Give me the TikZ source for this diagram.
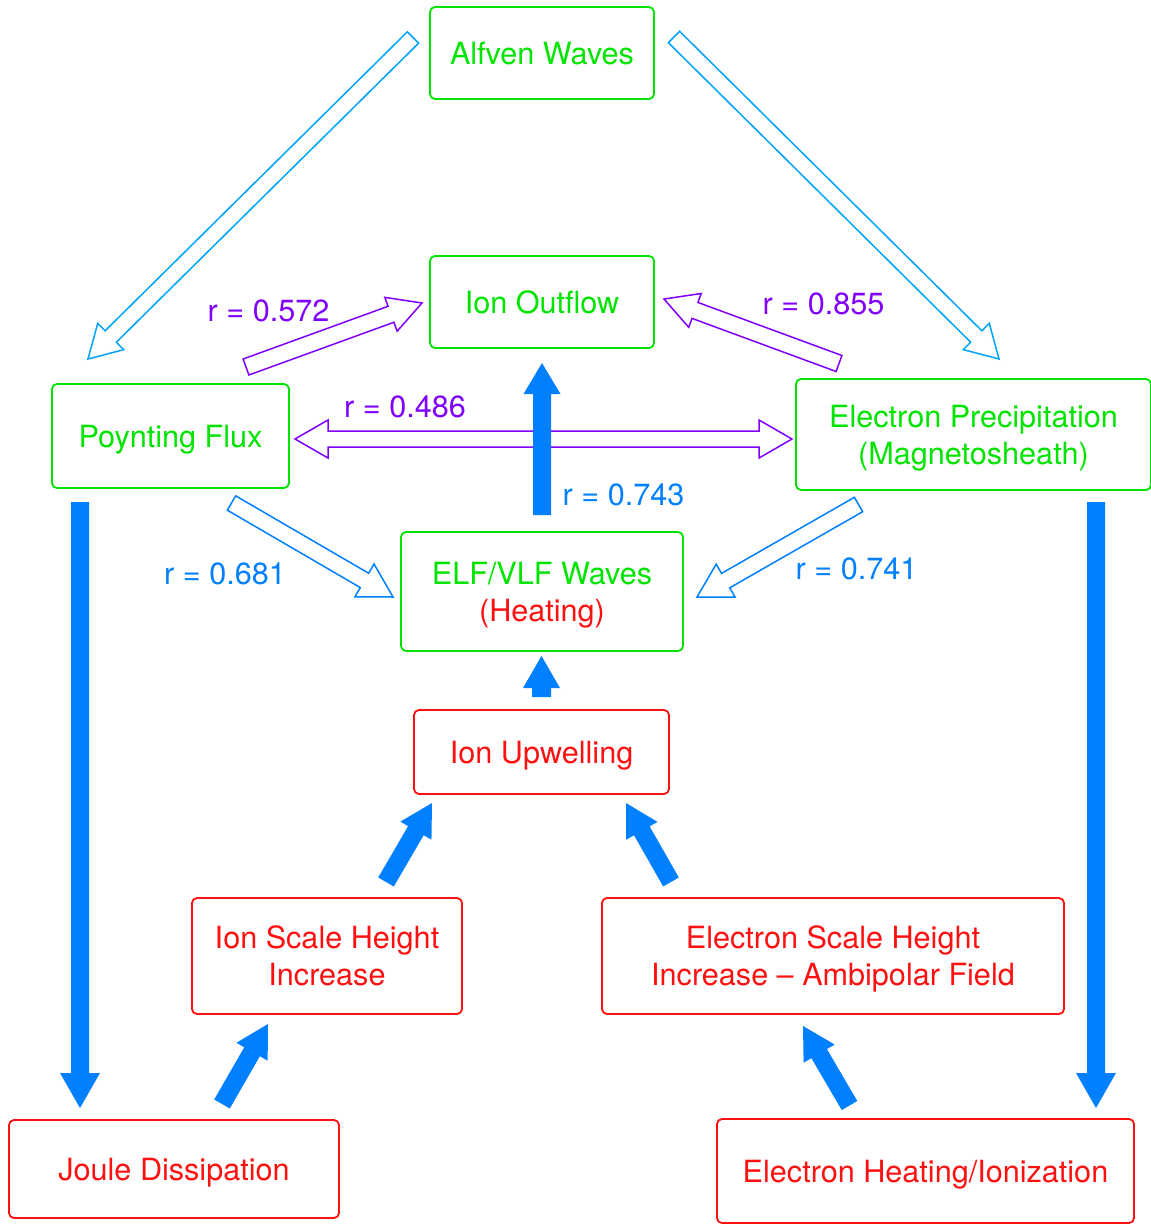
\documentclass[tikz,border=0pt]{standalone}
\usepackage{fontspec}
\setmainfont{TeX Gyre Heros}
\usetikzlibrary{calc}
\definecolor{boxgreen}{RGB}{0,228,0}
\definecolor{boxred}{RGB}{255,16,16}
\definecolor{rpurple}{RGB}{128,0,255}
\definecolor{solidblue}{RGB}{0,128,255}
\definecolor{lightblue}{RGB}{0,162,255}
\newcommand{\blkarrow}[6]{%
  \coordinate (hb) at ($(#3)!#6!(#2)$);
  \path[#1] ($(#2)!#4!90:(#3)$) -- ($(hb)!#4!90:(#3)$) -- ($(hb)!#5!90:(#3)$) -- (#3)
    -- ($(hb)!#5!-90:(#3)$) -- ($(hb)!#4!-90:(#3)$) -- ($(#2)!#4!-90:(#3)$) -- cycle;
}
\newcommand{\dblarrow}[6]{%
  \coordinate (ha) at ($(#2)!#6!(#3)$);
  \coordinate (hb) at ($(#3)!#6!(#2)$);
  \path[#1] (#2) -- ($(ha)!#5!90:(#3)$) -- ($(ha)!#4!90:(#3)$) -- ($(hb)!#4!-90:(#2)$)
    -- ($(hb)!#5!-90:(#2)$) -- (#3) -- ($(hb)!#5!90:(#2)$) -- ($(hb)!#4!90:(#2)$)
    -- ($(ha)!#4!-90:(#3)$) -- ($(ha)!#5!-90:(#3)$) -- cycle;
}
\begin{document}
\begin{tikzpicture}[x=1pt,y=-1pt,
  every node/.style={font=\fontsize{30.6}{37}\selectfont},
  box/.style={draw, rounded corners=5pt, line width=1.8pt, inner sep=0pt, align=center, text depth=0pt},
  gbox/.style={box, draw=boxgreen, text=boxgreen},
  rbox/.style={box, draw=boxred, text=boxred},
  hollowblue/.style={draw=lightblue, fill=white, line width=1.5pt, line join=miter},
  hollowblue2/.style={draw=solidblue, fill=white, line width=1.5pt, line join=miter},
  hollowpurple/.style={draw=rpurple, fill=white, line width=1.5pt, line join=miter},
  solidarr/.style={fill=solidblue},
  rlab/.style={anchor=base, inner sep=0pt}
]
\useasboundingbox (0,0) rectangle (1151,1224);

% nodes
\node[gbox, minimum width=224pt, minimum height=92pt] (alfven) at (542,53) {Alfven Waves};
\node[gbox, minimum width=224pt, minimum height=92pt] (outflow) at (542,302) {Ion Outflow};
\node[gbox, minimum width=237pt, minimum height=104pt] (poynting) at (170.5,436) {Poynting Flux};
\node[gbox, minimum width=355pt, minimum height=111pt] (precip) at (973.5,434.5) {Electron Precipitation\\(Magnetosheath)};
\node[gbox, minimum width=282pt, minimum height=119pt] (elf) at (542,591.5) {ELF/VLF Waves\\\textcolor{boxred}{(Heating)}};
\node[rbox, minimum width=255pt, minimum height=84pt] (upwell) at (541.5,752) {Ion Upwelling};
\node[rbox, minimum width=270pt, minimum height=116pt] (ionscale) at (327,956) {Ion Scale Height\\Increase};
\node[rbox, minimum width=462pt, minimum height=116pt] (escale) at (833,956) {Electron Scale Height\\Increase -- Ambipolar Field};
\node[rbox, minimum width=330pt, minimum height=98pt] (joule) at (174,1169) {Joule Dissipation};
\node[rbox, minimum width=417pt, minimum height=104pt] (eheat) at (925.5,1171) {Electron Heating/Ionization};

% arrow end coordinates
\coordinate (a1s) at (413,37.5);   \coordinate (a1e) at (88,359);
\coordinate (a2s) at (674,37);     \coordinate (a2e) at (999,359);
\coordinate (p1s) at (246,367);    \coordinate (p1e) at (422,303);
\coordinate (p2s) at (839,363.5);  \coordinate (p2e) at (664,299);
\coordinate (d1s) at (295,439);    \coordinate (d1e) at (792,439);
\coordinate (b1s) at (231.5,503);  \coordinate (b1e) at (393,597);
\coordinate (b2s) at (858.5,504.5);\coordinate (b2e) at (697,597);
\coordinate (s1s) at (542,515);    \coordinate (s1e) at (542,363);
\coordinate (s2s) at (541.5,697);  \coordinate (s2e) at (541.5,656);
\coordinate (s3s) at (386,882);    \coordinate (s3e) at (432,803);
\coordinate (s4s) at (671,882);    \coordinate (s4e) at (626,803);
\coordinate (s5s) at (222,1104);   \coordinate (s5e) at (268,1024);
\coordinate (s6s) at (849.5,1105.5); \coordinate (s6e) at (803,1026);
\coordinate (s7s) at (80,502);     \coordinate (s7e) at (80,1108);
\coordinate (s8s) at (1096,502);   \coordinate (s8e) at (1096,1108);

% hollow arrows
\blkarrow{hollowblue}{a1s}{a1e}{8pt}{18.5pt}{32pt}
\blkarrow{hollowblue}{a2s}{a2e}{8pt}{18.5pt}{32pt}
\blkarrow{hollowpurple}{p1s}{p1e}{8.5pt}{18pt}{33pt}
\blkarrow{hollowpurple}{p2s}{p2e}{8.5pt}{18pt}{33pt}
\blkarrow{hollowblue2}{b1s}{b1e}{8.3pt}{19pt}{33pt}
\blkarrow{hollowblue2}{b2s}{b2e}{8.3pt}{19pt}{33pt}
\dblarrow{hollowpurple}{d1s}{d1e}{8pt}{19pt}{33pt}

% solid arrows
\blkarrow{solidarr}{s1s}{s1e}{9pt}{18.5pt}{31pt}
\blkarrow{solidarr}{s2s}{s2e}{9.5pt}{18.5pt}{32pt}
\blkarrow{solidarr}{s3s}{s3e}{9pt}{18pt}{32pt}
\blkarrow{solidarr}{s4s}{s4e}{9pt}{18pt}{32pt}
\blkarrow{solidarr}{s5s}{s5e}{9pt}{18pt}{32pt}
\blkarrow{solidarr}{s6s}{s6e}{9pt}{18pt}{32pt}
\blkarrow{solidarr}{s7s}{s7e}{9pt}{20pt}{35pt}
\blkarrow{solidarr}{s8s}{s8e}{9pt}{20pt}{35pt}

% labels
\node[rlab, text=rpurple] (l572) at (268.5,321) {r = 0.572};
\node[rlab, text=rpurple] (l486) at (405,417) {r = 0.486};
\node[rlab, text=rpurple] (l855) at (823.5,314) {r = 0.855};
\node[rlab, text=solidblue] (l743) at (623.5,505) {r = 0.743};
\node[rlab, text=solidblue] (l741) at (856.5,579) {r = 0.741};
\node[rlab, text=solidblue] (l681) at (225,584) {r = 0.681};
\end{tikzpicture}
\end{document}
